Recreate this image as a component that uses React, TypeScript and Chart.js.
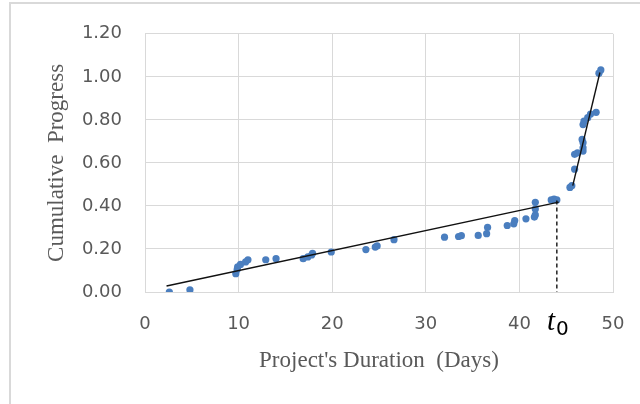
import React, { useEffect, useRef } from "react";
import { Chart, registerables } from "chart.js";

Chart.register(...registerables);

// Observed data points (days, cumulative progress)
const xDays = [
  2.6, 4.8, 9.7, 9.85, 9.9, 10.2, 10.75, 11.0, 12.9, 14.0, 16.9, 17.4, 17.8, 17.9, 19.9,
  23.6, 24.6, 24.8, 26.6, 32.0, 33.5, 33.8, 35.6, 36.5, 36.6, 38.7, 39.4, 39.5, 40.7,
  41.6, 41.7, 41.7, 41.7, 43.4, 43.7, 44.0, 45.4, 45.6, 45.9, 45.9, 46.2, 46.8, 46.8,
  46.8, 46.7, 46.8, 46.9, 47.3, 47.6, 48.2, 48.5, 48.7,
];
const yProgress = [
  0.0, 0.01, 0.085, 0.105, 0.117, 0.128, 0.14, 0.15, 0.15, 0.155, 0.155, 0.163, 0.172,
  0.18, 0.186, 0.197, 0.209, 0.214, 0.243, 0.255, 0.258, 0.262, 0.263, 0.271, 0.3,
  0.309, 0.317, 0.332, 0.34, 0.348, 0.358, 0.386, 0.417, 0.428, 0.432, 0.428, 0.486,
  0.494, 0.571, 0.64, 0.647, 0.655, 0.67, 0.694, 0.709, 0.778, 0.794, 0.81, 0.827,
  0.835, 1.017, 1.032,
];

// Fitted trend segments
const trend1X = [2.3, 44.2];
const trend1Y = [0.028, 0.418];
const trend2X = [45.7, 48.6];
const trend2Y = [0.494, 1.02];

// Change point t0
const t0Day = 44.0;
const t0X = [t0Day, t0Day];
const t0Y = [0.425, 0];

const xTicks = [0, 10, 20, 30, 40, 50];
const yTicks = [0, 0.2, 0.4, 0.6, 0.8, 1.0, 1.2];

const xTitle = "Project's Duration  (Days)";
const yTitle = "Cumulative  Progress";

const zip = (xs: number[], ys: number[]) => xs.map((x, i) => ({ x, y: ys[i] }));

const GRID = "#d9d9d9";
const TICK = "#595959";

const t0Plugin = {
  id: "t0label",
  afterDraw(chart: any) {
    const xs = chart.scales.x;
    const ctx = chart.ctx;
    const px = xs.getPixelForValue(t0Day);
    const base = 330;
    ctx.save();
    ctx.fillStyle = "#000";
    ctx.textBaseline = "alphabetic";
    const tFont = "italic 29px 'Liberation Serif'";
    const zFont = "20px 'DejaVu Sans'";
    ctx.font = tFont;
    const tw = ctx.measureText("t").width;
    ctx.font = zFont;
    const zw = ctx.measureText("0").width;
    const start = px - (tw + zw + 1) / 2 + 1;
    ctx.font = tFont;
    ctx.fillText("t", start, base);
    ctx.font = zFont;
    ctx.fillText("0", start + tw + 1, base + 5);
    ctx.restore();
  },
};

export default function App() {
  const ref = useRef<HTMLCanvasElement | null>(null);
  useEffect(() => {
    if (!ref.current) return;
    const chart = new Chart(ref.current, {
      type: "scatter",
      data: {
        datasets: [
          {
            data: zip(xDays, yProgress),
            backgroundColor: "#4a7ebf",
            borderColor: "#4a7ebf",
            pointRadius: 3.6,
            pointBorderWidth: 0,
            showLine: false,
            order: 2,
          },
          {
            data: zip(trend1X, trend1Y),
            showLine: true,
            borderColor: "#111",
            borderWidth: 1.4,
            pointRadius: 0,
            order: 1,
          },
          {
            data: zip(trend2X, trend2Y),
            showLine: true,
            borderColor: "#111",
            borderWidth: 1.4,
            pointRadius: 0,
            order: 1,
          },
          {
            data: zip(t0X, t0Y),
            showLine: true,
            borderColor: "#111",
            borderWidth: 1.4,
            borderDash: [4, 3],
            pointRadius: 0,
            order: 1,
          },
        ],
      },
      options: {
        animation: false,
        responsive: false,
        devicePixelRatio: 1,
        layout: { padding: { left: 0, right: 27, top: 32, bottom: 0 } },
        plugins: { legend: { display: false }, tooltip: { enabled: false } },
        scales: {
          x: {
            type: "linear",
            min: 0,
            max: 50,
            afterBuildTicks: (s: any) => {
              s.ticks = xTicks.map((v) => ({ value: v }));
            },
            afterFit: (s: any) => {
              s.height = 112;
              s.paddingRight = 0;
              s.paddingLeft = 0;
            },
            grid: { color: GRID, lineWidth: 1, drawTicks: false },
            border: { color: GRID, width: 1 },
            ticks: {
              color: TICK,
              padding: 22,
              font: { family: "'DejaVu Sans'", size: 18 },
              maxRotation: 0,
            },
            title: {
              display: true,
              text: xTitle,
              color: TICK,
              font: { family: "'Liberation Serif'", size: 23 },
              padding: { top: 0, bottom: 29 },
            },
          },
          y: {
            type: "linear",
            min: 0,
            max: 1.2,
            afterBuildTicks: (s: any) => {
              s.ticks = yTicks.map((v) => ({ value: v }));
            },
            afterFit: (s: any) => {
              s.width = 145;
            },
            grid: { color: GRID, lineWidth: 1, drawTicks: false },
            border: { color: GRID, width: 1 },
            ticks: {
              color: TICK,
              padding: 23,
              font: { family: "'DejaVu Sans'", size: 18 },
              callback: (v: any) => Number(v).toFixed(2),
            },
            title: {
              display: true,
              text: yTitle,
              color: TICK,
              font: { family: "'Liberation Serif'", size: 23 },
              padding: { top: 43, bottom: 0 },
            },
          },
        },
      },
      plugins: [t0Plugin],
    });
    return () => chart.destroy();
  }, []);

  return (
    <div style={{ position: "fixed", left: 0, top: 0, width: 640, height: 404, background: "#fff", overflow: "hidden" }}>
      <canvas ref={ref} width={640} height={404} style={{ position: "absolute", left: 0, top: 0 }} />
      <div
        style={{
          position: "absolute",
          left: 9,
          top: 2,
          width: 700,
          height: 500,
          borderTop: "2px solid #d9d9d9",
          borderLeft: "2px solid #d9d9d9",
          pointerEvents: "none",
        }}
      />
    </div>
  );
}
